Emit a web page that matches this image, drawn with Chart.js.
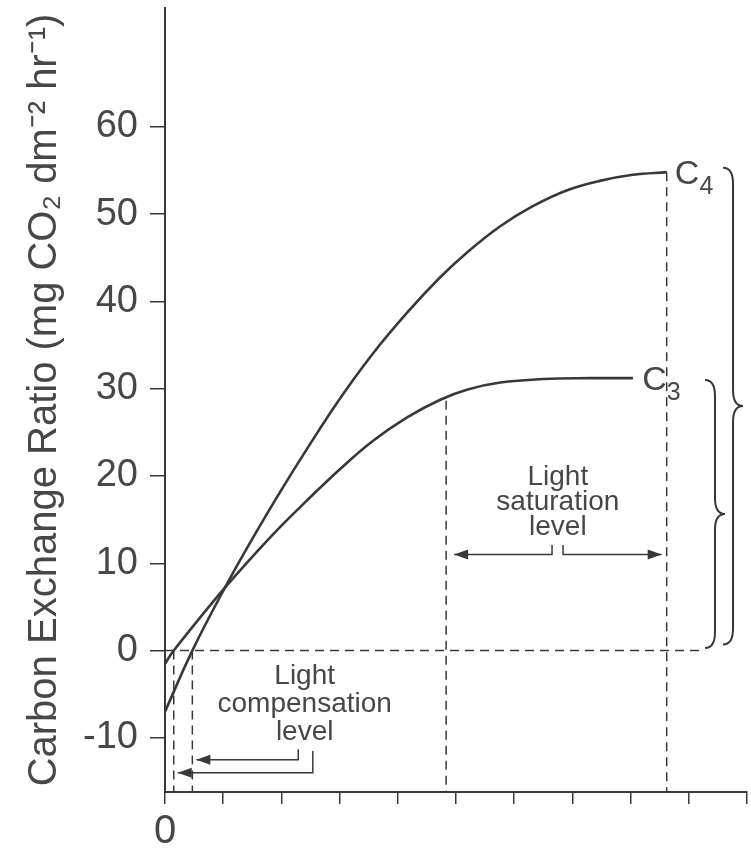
<!DOCTYPE html>
<html>
<head>
<meta charset="utf-8">
<script src="https://cdn.jsdelivr.net/npm/chart.js@4.4.0/dist/chart.umd.min.js"></script>
<style>
  body { margin: 0; background: #fff; }
</style>
</head>
<body>
<canvas id="chart" width="751" height="850"></canvas>
<script>
// values (x = light intensity, arbitrary units)
const c4Light = [0, 0.47, 1.03, 1.51, 2.0, 2.44, 3.01, 3.57, 4.16, 4.72, 5.19, 5.76, 6.32, 6.9, 7.47, 8.04, 8.62];
const c4Rate  = [-7.0, 0, 7.2, 12.9, 18.4, 23.1, 28.9, 34.0, 38.7, 42.7, 45.6, 48.6, 50.9, 52.7, 53.8, 54.5, 54.8];
const c3Light = [0, 0.15, 1.03, 1.84, 2.44, 3.01, 3.57, 4.16, 4.72, 5.2, 5.76, 6.5, 7.3, 8.04];
const c3Rate  = [-1.5, 0, 7.2, 13.2, 17.2, 20.8, 24.0, 26.7, 28.7, 29.9, 30.7, 31.1, 31.2, 31.2];

const yTicks = [-10, 0, 10, 20, 30, 40, 50, 60];
const xTicks = [0, 1, 2, 3, 4, 5, 6, 7, 8, 9, 10];
const xTickLabels = ['0', '', '', '', '', '', '', '', '', '', ''];

// compensation / saturation points
const compC3 = 0.15, compC4 = 0.47;
const satC3 = 4.83, satC4 = 8.62;

const ink = '#383838';
const textInk = '#474747';
const font = "'Liberation Sans', Arial, Helvetica, sans-serif";

const toPoints = (xs, ys) => xs.map((v, i) => ({ x: v, y: ys[i] }));

function arrowHead(ctx, x, y, dir) {
  ctx.beginPath();
  ctx.moveTo(x, y);
  ctx.lineTo(x - dir * 14, y - 5);
  ctx.lineTo(x - dir * 14, y + 5);
  ctx.closePath();
  ctx.fill();
}

function brace(ctx, xs, yTop, yBot, w, r) {
  const ym = (yTop + yBot) / 2;
  ctx.beginPath();
  ctx.moveTo(xs - w, yTop);
  ctx.quadraticCurveTo(xs, yTop, xs, yTop + r);
  ctx.lineTo(xs, ym - r);
  ctx.quadraticCurveTo(xs, ym, xs + w, ym);
  ctx.quadraticCurveTo(xs, ym, xs, ym + r);
  ctx.lineTo(xs, yBot - r);
  ctx.quadraticCurveTo(xs, yBot, xs - w, yBot);
  ctx.stroke();
}

const notes = {
  id: 'notes',
  afterDatasetsDraw(chart) {
    const { ctx, scales: { x, y } } = chart;
    const px = v => x.getPixelForValue(v);
    const py = v => y.getPixelForValue(v);
    const bottom = chart.chartArea.bottom;
    ctx.save();
    ctx.strokeStyle = ink;
    ctx.fillStyle = ink;

    // dashed guides
    ctx.setLineDash([9, 6]);
    ctx.lineWidth = 1.5;
    ctx.beginPath();
    ctx.moveTo(px(0), py(0)); ctx.lineTo(px(9.28), py(0));
    ctx.moveTo(px(compC3), py(0)); ctx.lineTo(px(compC3), bottom);
    ctx.moveTo(px(compC4), py(0)); ctx.lineTo(px(compC4), bottom);
    ctx.moveTo(px(satC3), py(28.6)); ctx.lineTo(px(satC3), bottom);
    ctx.moveTo(px(satC4), py(54.8)); ctx.lineTo(px(satC4), bottom);
    ctx.stroke();
    ctx.setLineDash([]);

    // compensation arrows
    ctx.lineWidth = 1.5;
    ctx.beginPath();
    ctx.moveTo(px(2.29), py(-11.3)); ctx.lineTo(px(2.29), py(-12.5)); ctx.lineTo(px(compC4) + 4, py(-12.5));
    ctx.moveTo(px(2.54), py(-11.5)); ctx.lineTo(px(2.54), py(-14.0)); ctx.lineTo(px(compC3) + 4, py(-14.0));
    ctx.stroke();
    arrowHead(ctx, px(compC4) + 4, py(-12.5), -1);
    arrowHead(ctx, px(compC3) + 4, py(-14.0), -1);

    // saturation arrows
    ctx.beginPath();
    ctx.moveTo(px(6.65), py(12.1)); ctx.lineTo(px(6.65), py(11)); ctx.lineTo(px(satC3) + 8, py(11));
    ctx.moveTo(px(6.84), py(12.1)); ctx.lineTo(px(6.84), py(11)); ctx.lineTo(px(satC4) - 5, py(11));
    ctx.stroke();
    arrowHead(ctx, px(satC3) + 8, py(11), -1);
    arrowHead(ctx, px(satC4) - 5, py(11), 1);

    // braces
    ctx.lineWidth = 2;
    brace(ctx, px(9.76), py(55.3), py(0.7), 10, 16);
    brace(ctx, px(9.45), py(31.0), py(0.3), 10, 16);

    // labels
    ctx.fillStyle = textInk;
    ctx.textAlign = 'center';
    ctx.textBaseline = 'middle';
    ctx.font = '28px ' + font;
    ['Light', 'compensation', 'level'].forEach((t, i) => ctx.fillText(t, px(2.4), py(-3.0) + i * 28));
    ['Light', 'saturation', 'level'].forEach((t, i) => ctx.fillText(t, px(6.75), py(19.8) + i * 25));

    ctx.textAlign = 'left';
    ctx.textBaseline = 'alphabetic';
    [['4', 8.76, 54.8], ['3', 8.2, 31.2]].forEach(([sub, xv, yv]) => {
      const X = px(xv), Y = py(yv) + 12;
      ctx.font = '34px ' + font;
      ctx.fillText('C', X, Y);
      const w = ctx.measureText('C').width;
      ctx.font = '25px ' + font;
      ctx.fillText(sub, X + w, Y + 10);
    });
    ctx.restore();
  }
};

new Chart(document.getElementById('chart'), {
  type: 'line',
  data: {
    datasets: [
      { label: 'C4', data: toPoints(c4Light, c4Rate) },
      { label: 'C3', data: toPoints(c3Light, c3Rate) }
    ]
  },
  options: {
    responsive: false,
    animation: false,
    layout: { padding: { top: 8, right: 4, left: 0, bottom: 0 } },
    elements: {
      line: { borderColor: ink, borderWidth: 2.6, tension: 0.4, fill: false },
      point: { radius: 0 }
    },
    plugins: { legend: { display: false }, tooltip: { enabled: false } },
    scales: {
      x: {
        type: 'linear',
        min: 0,
        max: 10,
        afterBuildTicks: s => { s.ticks = xTicks.map(v => ({ value: v })); },
        afterFit: s => { s.height = 58; s.paddingLeft = 0; s.paddingRight = 0; },
        grid: { drawOnChartArea: false, drawTicks: true, tickLength: 12, color: ink, lineWidth: 1.5 },
        border: { display: true, color: ink, width: 2 },
        ticks: {
          autoSkip: false,
          maxRotation: 0,
          padding: 4,
          color: textInk,
          font: { family: font, size: 40 },
          callback: (v, i) => xTickLabels[i]
        }
      },
      y: {
        min: -16.2,
        max: 73.6,
        afterBuildTicks: s => { s.ticks = yTicks.map(v => ({ value: v })); },
        afterFit: s => { s.width = 165; s.paddingTop = 0; s.paddingBottom = 0; },
        grid: { drawOnChartArea: false, drawTicks: true, tickLength: 15, color: ink, lineWidth: 1.5 },
        border: { display: true, color: ink, width: 2 },
        ticks: {
          padding: 12,
          color: textInk,
          font: { family: font, size: 38 }
        },
        title: {
          display: true,
          text: 'Carbon Exchange Ratio (mg CO\u2082 dm\u207B\u00B2 hr\u207B\u00B9)',
          color: textInk,
          font: { family: font, size: 40 },
          padding: { top: 21, bottom: 0 }
        }
      }
    }
  },
  plugins: [notes]
});
</script>
</body>
</html>
